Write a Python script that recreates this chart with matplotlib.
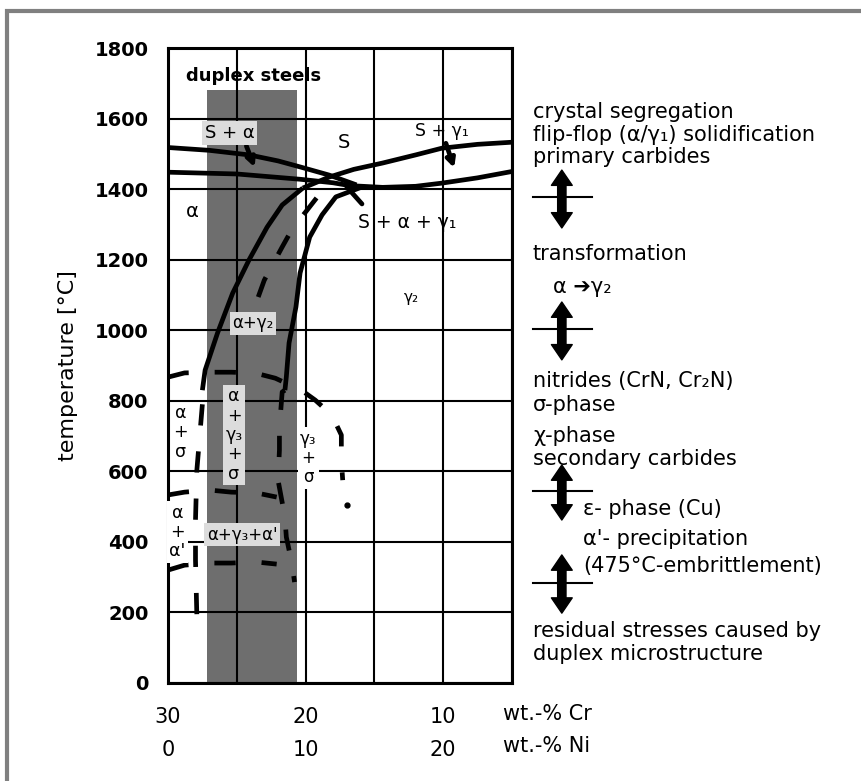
import matplotlib
matplotlib.use("Agg")
import matplotlib.pyplot as plt
from matplotlib.patches import Rectangle
from matplotlib.transforms import blended_transform_factory

plt.rcParams['font.family'] = ['DejaVu Sans']

# phase boundaries: wt.-% Cr vs temperature [C]
liq_alpha_cr = [30, 27.0, 24.1, 22.0, 20.4, 18.3, 16.3]
liq_alpha_t = [1518, 1510, 1497, 1480, 1463, 1440, 1412]
liq_gamma_cr = [20.2, 18.3, 16.5, 14.4, 12.0, 10.1, 7.5, 5]
liq_gamma_t = [1403, 1434, 1456, 1474, 1497, 1516, 1527, 1533]
solidus_cr = [30, 25, 20.4, 18.0, 16.8, 14.4, 12.0, 10.1, 7.5, 5]
solidus_t = [1448, 1443, 1428, 1418, 1410, 1405, 1408, 1417, 1432, 1450]
alpha_solvus_cr = [20.2, 21.7, 22.8, 24.1, 25.3, 26.4, 27.3, 27.5]
alpha_solvus_t = [1403, 1355, 1292, 1200, 1105, 992, 887, 830]
gamma_solvus_cr = [15.9, 17.8, 18.8, 19.7, 20.4, 20.7, 21.2, 21.4, 21.5]
gamma_solvus_t = [1406, 1378, 1327, 1264, 1162, 1066, 964, 867, 830]
gamma2_cr = [19.2, 20.0, 20.9, 21.7, 23.0, 23.6, 24.1]
gamma2_t = [1375, 1335, 1292, 1236, 1142, 1077, 992]

# sigma / alpha' regions (dashed)
sigma_nose_cr = [30, 28.8, 27.0, 25.4, 23.7, 22.2, 20.3, 19.3, 18.1, 17.4, 17.4, 17.3]
sigma_nose_t = [867, 879, 881, 881, 879, 864, 830, 802, 760, 703, 632, 575]
nose_tip_cr = [17.0]
nose_tip_t = [505]
sigma_left_cr = [27.5, 27.7, 27.9, 28.0, 28.0, 27.9]
sigma_left_t = [790, 697, 604, 462, 349, 187]
sigma_right_cr = [21.5, 21.7, 21.9, 21.9, 22.0, 21.5, 21.4, 21.0, 20.8]
sigma_right_t = [830, 825, 723, 660, 575, 470, 414, 340, 286]
sigma_low_cr = [30, 28.8, 27.0, 25.4, 23.6, 22.1]
sigma_low_t = [533, 541, 547, 541, 539, 527]
aprime_low_cr = [30, 28.8, 27.0, 25.4, 23.6, 22.1]
aprime_low_t = [320, 334, 340, 340, 343, 337]

# duplex steels band
duplex_cr = [27.2, 20.6]
duplex_top = 1680

# pointer lines (start -> end)
pointers = [((24.3, 1522), (23.7, 1462), True),
            ((9.8, 1530), (9.2, 1460), True),
            ((17.0, 1406), (15.9, 1358), False)]

# region labels: text, Cr, T, font size, box colour
region_labels = [
    ("S + α", 25.5, 1559, 13, '#dcdcdc'),
    ("S", 17.2, 1531, 14, None),
    ("S + γ₁", 10.1, 1565, 12.5, None),
    ("α", 28.2, 1338, 14, None),
    ("S + α + γ₁", 12.6, 1304, 13.5, None),
    ("γ₂", 12.3, 1094, 11, None),
    ("α+γ₂", 23.8, 1020, 12, '#dcdcdc'),
    ("α\n+\nσ", 29.1, 711, 12.5, None),
    ("α\n+\nγ₃\n+\nσ", 25.2, 703, 12.5, '#dcdcdc'),
    ("γ₃\n+\nσ", 19.8, 638, 12, 'white'),
    ("α\n+\nα'", 29.3, 428, 12.5, 'white'),
    ("α+γ₃+α'", 24.6, 420, 12, '#dcdcdc'),
]

# notes to the right of the diagram: text, temperature (baseline), indent
notes = [
    ("crystal segregation", 1601, 0),
    ("flip-flop (α/γ₁) solidification", 1536, 0),
    ("primary carbides", 1474, 0),
    ("transformation", 1199, 0),
    ("α ➔γ₂", 1105, 1),
    ("nitrides (CrN, Cr₂N)", 838, 0),
    ("σ-phase", 770, 0),
    ("χ-phase", 683, 0),
    ("secondary carbides", 618, 0),
    ("ε- phase (Cu)", 476, 2),
    ("α'- precipitation", 391, 2),
    ("(475°C-embrittlement)", 315, 2),
    ("residual stresses caused by", 130, 0),
    ("duplex microstructure", 65, 0),
]
note_indent = [1.061, 1.119, 1.206]

# temperature ranges: divider, arrow top, arrow bottom
range_div = [1378, 1003, 544, 283]
range_top = [1454, 1080, 618, 363]
range_bottom = [1290, 916, 462, 198]

cr_ticks = [30, 25, 20, 15, 10, 5]
cr_labels = ['30', '', '20', '', '10', '']
ni_ticks = [0, 10, 20]
t_ticks = [0, 200, 400, 600, 800, 1000, 1200, 1400, 1600, 1800]

LW = 3.4

fig = plt.figure(figsize=(8.61, 7.81), dpi=100)
ax = fig.add_axes([0.1951, 0.1255, 0.3995, 0.813])

ax.add_patch(Rectangle((duplex_cr[0], 0), duplex_cr[1] - duplex_cr[0], duplex_top,
                       fc='#6e6e6e', ec='none', zorder=0.2))

for xs, ys in [(liq_alpha_cr, liq_alpha_t), (liq_gamma_cr, liq_gamma_t),
               (solidus_cr, solidus_t), (alpha_solvus_cr, alpha_solvus_t),
               (gamma_solvus_cr, gamma_solvus_t)]:
    ax.plot(xs, ys, color='k', lw=LW, zorder=2, solid_capstyle='butt')

for xs, ys in [(gamma2_cr, gamma2_t), (sigma_nose_cr, sigma_nose_t),
               (sigma_left_cr, sigma_left_t), (sigma_right_cr, sigma_right_t),
               (sigma_low_cr, sigma_low_t), (aprime_low_cr, aprime_low_t)]:
    ax.plot(xs, ys, color='k', lw=LW, dashes=(4.5, 5.5), zorder=2)
ax.plot(nose_tip_cr, nose_tip_t, 'o', color='k', ms=3.5, zorder=2)

for start, end, head in pointers:
    style = '-|>,head_length=0.5,head_width=0.25' if head else '-'
    ax.annotate('', xy=end, xytext=start,
                arrowprops=dict(arrowstyle=style, color='k', lw=LW,
                                shrinkA=0, shrinkB=0))

for txt, x, y, fs, box in region_labels:
    kw = {}
    if box:
        kw['bbox'] = dict(boxstyle='square,pad=0.15', fc=box, ec='none')
    ax.text(x, y, txt, ha='center', va='center', fontsize=fs,
            linespacing=1.1, zorder=4, **kw)

ax.text(23.8, 1720, "duplex steels", ha='center', va='center',
        fontsize=13, fontweight='bold')

ax.set_xlim(30, 5)
ax.set_ylim(0, 1800)
ax.set_xticks(cr_ticks, labels=cr_labels)
ax.set_yticks(t_ticks)
ax.grid(True, color='k', lw=1.5)
ax.set_axisbelow(True)
ax.tick_params(length=0, labelsize=15)
ax.tick_params(axis='y', pad=14, labelsize=14)
for lab in ax.get_yticklabels():
    lab.set_fontweight('bold')
ax.tick_params(axis='x', pad=17)
for s in ax.spines.values():
    s.set_linewidth(2.2)
ax.set_ylabel("temperature [°C]", fontsize=16, labelpad=12)

secax = ax.secondary_xaxis('bottom', functions=(lambda c: 30 - c, lambda n: 30 - n))
secax.set_xticks(ni_ticks)
secax.tick_params(length=0, labelsize=15, pad=41)
secax.spines['bottom'].set_visible(False)

ax.text(0.974, -0.049, "wt.-% Cr", transform=ax.transAxes, ha='left', va='center', fontsize=15)
ax.text(0.974, -0.099, "wt.-% Ni", transform=ax.transAxes, ha='left', va='center', fontsize=15)

side = blended_transform_factory(ax.transAxes, ax.transData)
for txt, y, ind in notes:
    ax.text(note_indent[ind], y, txt, transform=side, ha='left', va='baseline',
            fontsize=15, clip_on=False)

for ydiv, ytop, ybot in zip(range_div, range_top, range_bottom):
    ax.plot([1.061, 1.233], [ydiv, ydiv], color='k', lw=1.5, transform=side, clip_on=False)
    for yend in (ytop, ybot):
        ax.annotate('', xy=(1.145, yend), xytext=(1.145, ydiv),
                    xycoords=side, textcoords=side,
                    arrowprops=dict(arrowstyle='simple,head_length=0.55,head_width=0.75,tail_width=0.3',
                                    color='k', mutation_scale=20, shrinkA=0, shrinkB=0))

fig.add_artist(Rectangle((7 / 861, -0.1), 1.2, 1.1 - 11 / 781, transform=fig.transFigure,
                         fill=False, ec='#808080', lw=3))

fig.savefig("out.png", dpi=100)
